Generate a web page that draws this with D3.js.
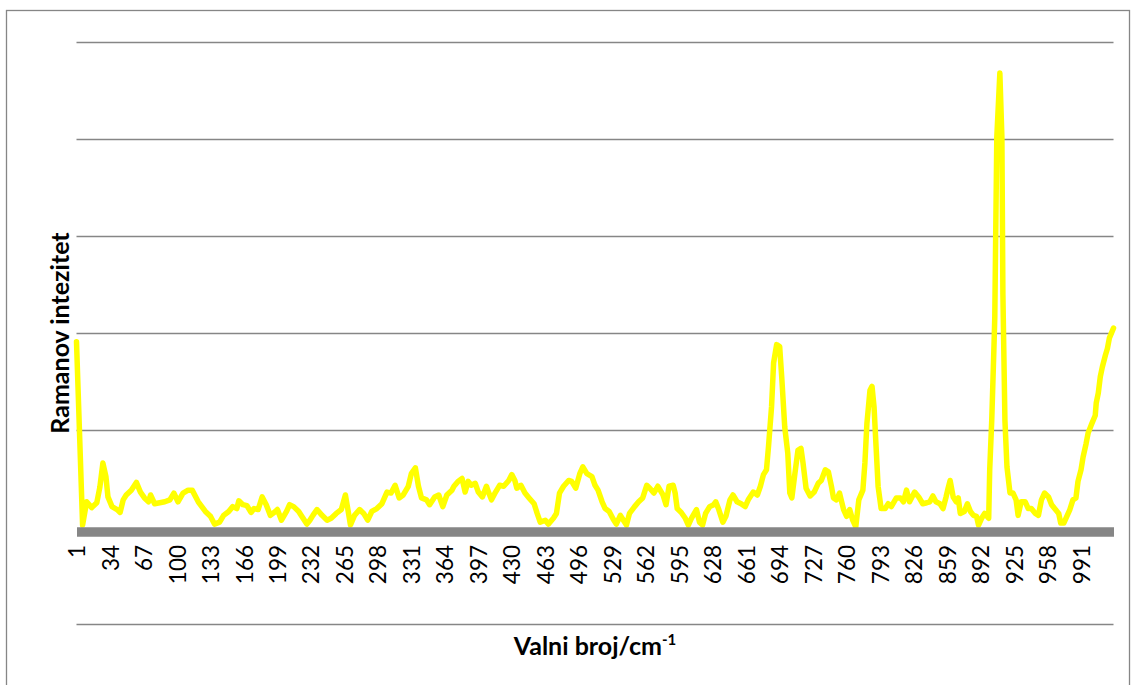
<!DOCTYPE html>
<html>
<head>
<meta charset="utf-8">
<script src="https://d3js.org/d3.v7.min.js"></script>
<style>
body { margin: 0; background: #fff; }
svg { display: block; font-family: Lato, "Open Sans", sans-serif; }
</style>
</head>
<body>
<svg id="chart" width="1132" height="685"></svg>
<script>
// category axis runs 1..1023, labelled every 33rd category
const categoryFirst = 1;
const categoryLast = 1023;
const tickLabels = ["1", "34", "67", "100", "133", "166", "199", "232", "265", "298", "331",
    "364", "397", "430", "463", "496", "529", "562", "595", "628", "661", "694", "727",
    "760", "793", "826", "859", "892", "925", "958", "991"];

// sampled points of the spectrum (category index, intensity)
const wavenumbers = [
    1, 7, 11, 16, 21, 24, 27, 30, 32, 36, 41, 44, 47, 50, 55, 60, 64, 68, 72, 74, 78, 83, 88, 93, 97, 101, 106, 111,
    115, 121, 128, 133, 137, 142, 146, 151, 155, 159, 161, 165, 169, 173, 176, 180, 184, 188, 192, 197, 199, 203, 208, 211, 215, 220, 223, 228, 231,
    234, 238, 243, 248, 252, 257, 262, 266, 268, 271, 275, 280, 284, 288, 292, 297, 302, 307, 311, 315, 319, 323, 328, 331, 335, 338, 341, 346, 349,
    354, 358, 362, 366, 371, 373, 377, 381, 384, 387, 390, 394, 397, 401, 405, 407, 410, 414, 418, 422, 427, 430, 433, 435, 439, 443, 447, 452, 455, 458, 463, 466,
    471, 474, 477, 481, 486, 489, 493, 497, 500, 504, 509, 512, 515, 519, 522, 526, 530, 533, 537, 540, 543, 546, 551, 555, 559, 563, 566, 570, 574, 579, 582, 585,
    589, 591, 593, 597, 601, 604, 607, 612, 615, 618, 621, 625, 629, 631, 634, 638, 641, 645, 648, 652, 656, 660, 663, 668, 672, 675, 678, 681, 683, 686, 688, 691, 694, 696, 699, 702, 704,
    706, 709, 712, 715, 717, 720, 724, 728, 732, 735, 739, 742, 745, 747, 750, 753, 757, 760, 763, 766, 769, 772, 776, 778, 780, 783, 785, 787, 789, 791, 794, 798, 801, 804, 809, 813, 816, 819, 822,
    827, 831, 835, 839, 842, 845, 848, 852, 855, 858, 860, 862, 865, 868, 870, 872, 876, 879, 882, 885, 888, 890, 893, 896, 900, 901, 903, 905, 906, 908,
    911, 913, 914, 916, 918, 921, 924, 927, 929, 932, 936, 939, 942, 946, 949, 952, 955, 959, 962, 965, 969, 971, 974, 977, 980, 983, 986, 988, 991, 993,
    996, 998, 1001, 1005, 1006, 1008, 1010, 1012, 1015, 1017, 1019, 1023
];
const intensity = [
    191, 2, 26, 20, 25, 41, 66, 52, 31, 21, 18, 15, 28, 33, 38, 46, 36, 30, 26, 33, 24, 25, 26, 28, 35, 26, 35, 38,
    38, 26, 16, 11, 3, 5, 12, 16, 21, 19, 27, 23, 22, 15, 19, 18, 31, 23, 12, 16, 18, 7, 16, 23, 21, 16, 11, 3, 7,
    12, 18, 12, 7, 9, 14, 18, 33, 21, 2, 12, 18, 14, 7, 16, 19, 24, 36, 35, 43, 30, 33, 42, 55, 61, 42, 30, 28, 23,
    31, 33, 21, 33, 38, 42, 47, 50, 36, 47, 43, 45, 36, 31, 42, 36, 28, 36, 43, 42, 48, 54, 48, 40, 43, 35, 30, 24, 14, 5, 7, 3,
    9, 14, 35, 42, 48, 47, 40, 55, 62, 55, 52, 43, 38, 26, 19, 16, 8, 3, 12, 7, 2, 14, 21, 26, 30, 43, 40, 35, 42, 33, 23, 42,
    43, 35, 19, 15, 9, 2, 9, 18, 5, 2, 14, 21, 23, 26, 18, 5, 11, 28, 33, 26, 24, 21, 28, 36, 33, 42, 54, 59, 83, 124, 169, 188, 186, 155, 103, 76, 35,
    30, 55, 79, 81, 66, 40, 32, 36, 45, 48, 59, 57, 42, 30, 28, 35, 18, 11, 18, 7, 0, 28, 38, 66, 107, 141, 145, 124, 83, 42, 19, 19, 24, 21, 30, 30, 26, 38, 26,
    36, 31, 24, 25, 26, 32, 26, 24, 19, 31, 40, 48, 31, 26, 30, 14, 16, 24, 16, 12, 11, 2, 9, 14, 9, 59, 110, 179, 216, 402,
    468, 402, 240, 110, 62, 35, 35, 28, 12, 26, 26, 19, 19, 14, 12, 28, 35, 31, 23, 19, 14, 4, 4, 11, 18, 28, 30, 47, 59, 72,
    86, 97, 105, 115, 128, 138, 155, 165, 177, 184, 195, 205
];

// value axis: hidden labels, gridlines every 100
const gridValues = [-100, 0, 100, 200, 300, 400, 500];

const yTitle = "Ramanov intezitet";
const xTitle = "Valni broj/cm";
const xTitleSup = "-1";

const gridColor = "#868686";
const lineColor = "#ffff00";

const margin = { left: 76.5, right: 18.5, top: 42, bottom: 61 };
const width = 1132, height = 685;

const svg = d3.select("#chart");

const x = d3.scaleLinear()
    .domain([categoryFirst, categoryLast])
    .range([margin.left, width - margin.right]);

const y = d3.scaleLinear()
    .domain([gridValues[0], gridValues[gridValues.length - 1]])
    .range([height - margin.bottom, margin.top]);

// outer chart border
svg.append("rect")
    .attr("x", 6.5).attr("y", 10.5)
    .attr("width", 1123).attr("height", 700)
    .attr("fill", "#fff")
    .attr("stroke", gridColor)
    .attr("stroke-width", 1.3);

// gridlines
const grid = svg.append("g")
    .attr("transform", "translate(" + x.range()[0] + ",0)")
    .call(d3.axisLeft(y)
        .tickValues(gridValues.filter(v => v !== 0))
        .tickSize(-(x.range()[1] - x.range()[0]))
        .tickFormat(""));
grid.select(".domain").remove();
grid.selectAll(".tick line")
    .attr("stroke", gridColor)
    .attr("stroke-width", 1.6);

// spectrum line
const points = wavenumbers.map((c, i) => ({ c: c, v: intensity[i] }));

const line = d3.line()
    .x(d => x(d.c))
    .y(d => y(d.v));

svg.append("path")
    .datum(points)
    .attr("fill", "none")
    .attr("stroke", lineColor)
    .attr("stroke-width", 5.5)
    .attr("stroke-linejoin", "round")
    .attr("stroke-linecap", "round")
    .attr("d", line);

// category axis: thick grey band with rotated labels
const bandOffset = 4.5;
const xAxis = svg.append("g")
    .attr("transform", "translate(0," + (y(0) + bandOffset) + ")")
    .call(d3.axisBottom(x)
        .tickValues(tickLabels.map(Number))
        .tickSize(0)
        .tickSizeOuter(0)
        .tickFormat(d => String(d)));

xAxis.select(".domain")
    .attr("stroke", gridColor)
    .attr("stroke-width", 9.5);

xAxis.selectAll(".tick text")
    .attr("transform", "rotate(-90)")
    .attr("text-anchor", "end")
    .attr("x", -(545 - y(0) - bandOffset))
    .attr("y", 0)
    .attr("dy", "0.36em")
    .attr("fill", "#000")
    .style("font-family", "Lato, 'Open Sans', sans-serif")
    .style("font-size", "22.5px");

// axis titles
svg.append("text")
    .attr("transform", "translate(60,333) rotate(-90)")
    .attr("text-anchor", "middle")
    .attr("dy", "0.36em")
    .style("font-size", "25px")
    .style("font-weight", "bold")
    .text(yTitle);

const xt = svg.append("text")
    .attr("x", 595)
    .attr("y", 655)
    .attr("text-anchor", "middle")
    .style("font-size", "25px")
    .style("font-weight", "bold");
xt.append("tspan").text(xTitle);
xt.append("tspan")
    .attr("dy", -10)
    .style("font-size", "15px")
    .text(xTitleSup);
</script>
</body>
</html>
